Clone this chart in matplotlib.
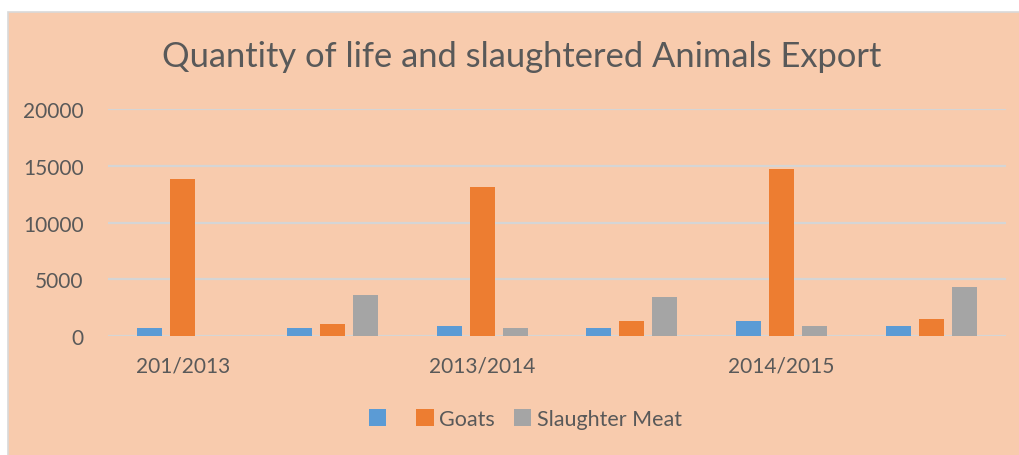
import matplotlib
matplotlib.use('Agg')
import matplotlib.pyplot as plt
from matplotlib.patches import Rectangle
import numpy as np

plt.rcParams['font.family'] = ['Lato', 'DejaVu Sans']

# data
categories = ['201/2013', '', '2013/2014', '', '2014/2015', '']
blue_vals = [740, 740, 910, 740, 1300, 910]
goats = [13800, 1090, 13100, 1300, 14720, 1475]
slaughter = [0, 3600, 740, 3420, 910, 4340]
series_names = [' ', 'Goats', 'Slaughter Meat']

text_col = '#595959'
peach = '#F8CBAD'

fig = plt.figure(figsize=(10.2, 4.56), dpi=100)
fig.patch.set_facecolor('white')
# peach chart area with thin grey frame, behind everything
fig.patches.append(Rectangle((8 / 1020, -0.01), 1.0, 1 - 13 / 456 + 0.01,
                             transform=fig.transFigure, facecolor=peach,
                             edgecolor='#D9D9D9', linewidth=1.2, zorder=-10))

ax = fig.add_axes([108 / 1020, 1 - 337 / 456, (1006 - 108) / 1020, 227 / 456])
ax.set_facecolor('none')

x = np.arange(len(categories))
w = 0.167
off = 0.22
b1 = ax.bar(x - off, blue_vals, w, color='#5B9BD5', zorder=3)
b2 = ax.bar(x, goats, w, color='#ED7D31', zorder=3)
b3 = ax.bar(x + off, slaughter, w, color='#A5A5A5', zorder=3)

ax.set_xlim(-0.5, 5.5)
ax.set_ylim(0, 20000)
ax.set_yticks([0, 5000, 10000, 15000, 20000])
ax.yaxis.grid(True, color='#D5D5D5', linewidth=1.6, zorder=0)
ax.set_xticks(x)
ax.set_xticklabels(categories)
ax.tick_params(axis='both', length=0, labelsize=15, colors=text_col)
ax.tick_params(axis='y', pad=17.5)
ax.tick_params(axis='x', pad=14)
for s in ax.spines.values():
    s.set_visible(False)

fig.text(0.511, 1 - 57 / 456, 'Quantity of life and slaughtered Animals Export',
         ha='center', va='center', fontsize=24.8, color=text_col)

fig.legend([b1, b2, b3], series_names, loc='center', bbox_to_anchor=(0.515, 1 - 420 / 456),
           ncol=3, frameon=False, fontsize=15.5, labelcolor=text_col,
           handlelength=0.8, handleheight=0.8, handletextpad=0.25, columnspacing=0.9)

fig.savefig('out.png', dpi=100, facecolor=fig.get_facecolor())
